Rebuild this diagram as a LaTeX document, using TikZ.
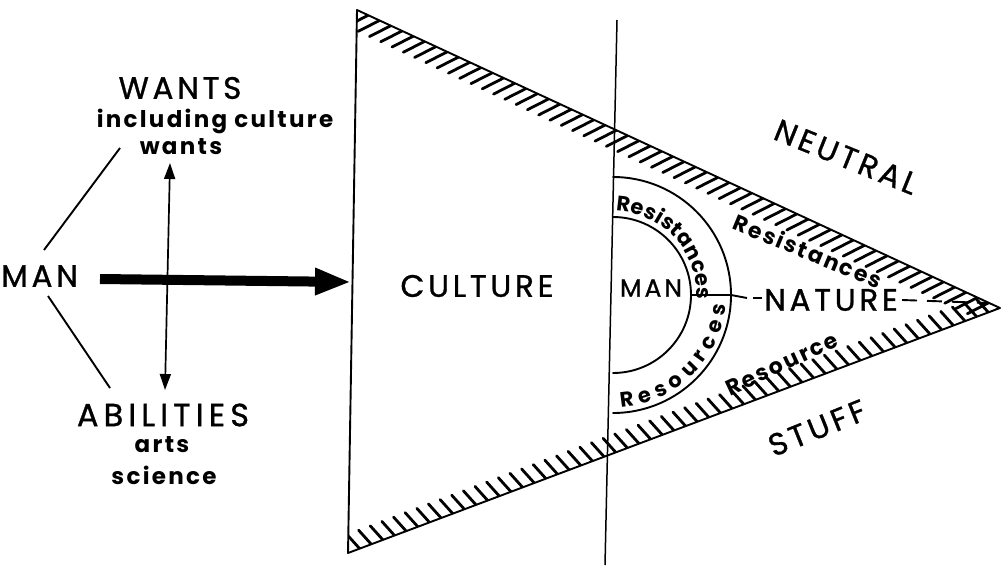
\documentclass[tikz,border=0pt]{standalone}
\usepackage{fontspec}
\setmainfont{Poppins}
\newfontfamily\capsfont[LetterSpace=12, FakeBold=1]{Poppins}
\newfontfamily\widecapsfont[LetterSpace=16, FakeBold=1]{Poppins}
\newfontfamily\lowfont[LetterSpace=10]{Poppins}
\usetikzlibrary{calc,arrows.meta,decorations.text}
\tikzset{
  edge/.style={line width=1.9pt, line cap=round, line join=round},
  hatchline/.style={line width=2.8pt, line cap=round},
  bigcap/.style={inner sep=0pt, font=\capsfont\fontsize{31}{31}\selectfont},
  widecap/.style={inner sep=0pt, font=\widecapsfont\fontsize{32}{32}\selectfont},
  midcap/.style={inner sep=0pt, font=\capsfont\fontsize{31}{31}\selectfont},
  mancap/.style={inner sep=0pt, font=\capsfont\fontsize{25}{25}\selectfont},
  small/.style={inner sep=0pt, font=\lowfont\bfseries\fontsize{23}{23}\selectfont},
  slant/.style={inner sep=0pt, font=\lowfont\bfseries\fontsize{22}{22}\selectfont}
}
\begin{document}
\begin{tikzpicture}[x=1pt,y=-1pt]
\useasboundingbox (0,0) rectangle (1003,565);
\fill[white] (0,0) rectangle (1003,565);

% main triangle and divider
\coordinate (A) at (357,10);
\coordinate (B) at (348,553);
\coordinate (T) at (1000,308);
\coordinate (V1) at (617,20);
\coordinate (V2) at (605,565);
\coordinate (C) at (613,295);

\begin{scope}
  \clip (A) -- (T) -- (B) -- cycle;
  \foreach \i in {0,...,57} \draw[hatchline] ($(A)!\i/57!(T)$) -- ++(-21.4,10.9);
  \foreach \i in {0,...,56} \draw[hatchline] ($(B)!\i/56!(T)$) -- ++(-12.7,-14.1);
\end{scope}
\draw[edge] (A) -- (T) -- (B) -- cycle;
\draw[line width=1.5pt] (V1) -- (V2);

% ring
\draw[edge] ($(C)+(-90:78)$) arc[start angle=-90, end angle=90, radius=78];
\draw[edge] ($(C)+(-90:118)$) arc[start angle=-90, end angle=90, radius=118];
\path[decorate, decoration={text along path, text align=fit to path,
  text={|\bfseries\fontsize{21}{21}\selectfont|Resistances}}]
  ($(C)+(-88:84)$) arc[start angle=-88, end angle=3, radius=84];
\path[decorate, decoration={text along path, text align=fit to path,
  text={|\bfseries\fontsize{21}{21}\selectfont|Resources}}]
  ($(C)+(86:113)$) arc[start angle=86, end angle=5, radius=113];

% left side
\node[bigcap] (wants) at (180,88) {WANTS};
\node[small] (incl) at (215,121) {including culture};
\node[small] (wantsb) at (181,147) {wants};
\node[bigcap, anchor=west] (man) at (1,276) {MAN};
\node[widecap] (abil) at (163,415) {ABILITIES};
\node[small] (arts) at (162,445) {arts};
\node[small] (sci) at (164,475) {science};

\coordinate (l1a) at (44,250);
\coordinate (l1b) at (120,148);
\coordinate (l2a) at (48,296);
\coordinate (l2b) at (110,388);
\draw[line width=1.9pt] (l1a) -- (l1b);
\draw[line width=1.9pt] (l2a) -- (l2b);

\coordinate (va1) at (170,163);
\coordinate (va2) at (165,390);
\draw[line width=1.7pt, {Triangle[length=16pt,width=11pt]}-{Triangle[length=16pt,width=11pt]}] (va1) -- (va2);

\coordinate (ha1) at (100,279);
\coordinate (ha2) at (351,282);
\draw[line width=10pt, -{Triangle[length=36pt,width=25pt]}] (ha1) -- (ha2);

% right side labels
\node[midcap] (cult) at (477,286) {CULTURE};
\node[mancap] (man2) at (651,288) {MAN};
\node[midcap] (nat) at (831,300) {NATURE};
\node[midcap, rotate=-22] (neu) at (846,157) {NEUTRAL};
\node[midcap, rotate=22] (stuff) at (817,428) {STUFF};
\node[slant, rotate=-22.5] (res1) at (808,251) {Resistances};
\node[slant, rotate=25] (res2) at (782,364) {Resource};

% MAN -- NATURE line
\coordinate (ie) at ($(C)+(0:78)$);
\coordinate (oe) at ($(C)+(0:118)$);
\draw[line width=1.9pt] (ie) -- (oe);
\coordinate (d1) at (747,298);
\coordinate (d2) at (753,298);
\coordinate (d3) at (762,298);
\draw[line width=1.9pt] (oe) -- (d1);
\draw[line width=1.9pt] (d2) -- (d3);
\coordinate (e1) at (902,300);
\coordinate (e2) at (988,303);
\draw[line width=1.9pt, dash pattern=on 15pt off 10pt] (e1) -- (e2);
\end{tikzpicture}
\end{document}
